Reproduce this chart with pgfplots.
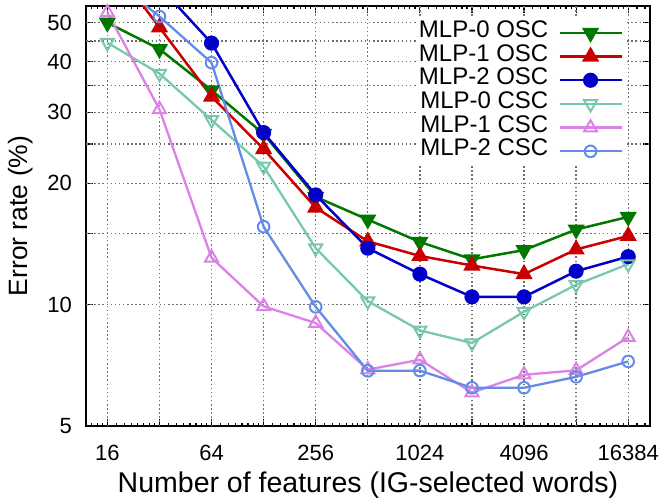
\documentclass[border=0pt]{standalone}
\usepackage{pgfplots}
\pgfplotsset{compat=1.18}
\usepackage{fontspec}
\setmainfont{Liberation Sans}
\definecolor{cg}{RGB}{0,120,0}
\definecolor{cr}{RGB}{200,0,0}
\definecolor{cb}{RGB}{0,0,200}
\definecolor{ct}{RGB}{120,200,170}
\definecolor{cv}{RGB}{220,130,230}
\definecolor{cl}{RGB}{100,140,230}
\definecolor{cgrid}{RGB}{110,110,110}
\tikzset{gridline/.style={draw=cgrid, line width=1.3pt, dash pattern=on 1.5pt off 2.6pt}}
\begin{document}
\begin{tikzpicture}
\path[use as bounding box] (-86pt,-73pt) rectangle (577pt,426pt);
\begin{axis}[
  scale only axis, width=564pt, height=420pt,
  xmode=log, ymode=log,
  xmin=12.04, xmax=21900, ymin=5, ymax=55,
  xtick={16,32,64,128,256,512,1024,2048,4096,8192,16384},
  xticklabels={16,,64,,256,,1024,,4096,,16384},
  minor xtick={13,14,15,18,20,22,24,26,28,30,36,40,44,48,52,56,60,72,80,88,96,104,112,120,144,160,176,192,208,224,240,288,320,352,384,416,448,480,576,640,704,768,832,896,960,1152,1280,1408,1536,1664,1792,1920,2304,2560,2816,3072,3328,3584,3840,4608,5120,5632,6144,6656,7168,7680,9216,10240,11264,12288,13312,14336,15360,18432,20480},
  ytick={5,10,15,20,25,30,35,40,45,50},
  yticklabels={5,10,,20,,30,,40,,50},
  tick align=inside, major tick length=7pt, minor tick length=3.5pt,
  tick style={black, line width=1.2pt},
  axis line style={line width=1.6pt},
  /pgf/number format/assume math mode=true,
  tick label style={font=\fontsize{22}{22}\selectfont},
  xticklabel style={anchor=base, inner sep=0pt, yshift=-34.7pt},
  yticklabel style={anchor=east, inner sep=0pt, xshift=-14pt},
  xlabel={Number of features (IG-selected words)},
  ylabel={Error rate (\%)},
  every axis x label/.style={at={([yshift=-66pt]axis description cs:0.5,0)}, anchor=base, font=\fontsize{28.5}{28.5}\selectfont},
  every axis y label/.style={at={([xshift=-78pt]axis description cs:0,0.5)}, anchor=north, rotate=90, inner sep=0pt, font=\fontsize{26.5}{26.5}\selectfont},
  legend image code/.code={\draw[mark repeat=2,mark phase=2,#1] plot coordinates {(0pt,0pt) (31pt,0pt) (62pt,0pt)};},
  legend plot pos=right,
  legend cell align=right,
  legend style={at={(rel axis cs:1,1)}, anchor=north east, xshift=-24pt, yshift=-11.8pt,
    draw=none, fill=white, inner sep=3pt, column sep=10pt, row sep=0pt,
    font=\fontsize{24}{24}\selectfont,
    nodes={inner sep=0pt, text height=16.5pt, text depth=7.2pt}},
]
\pgfplotsinvokeforeach{16,32,64,128,256,512,1024,2048,4096,8192,16384}{\draw[gridline] (axis cs:#1,5) -- (axis cs:#1,55);}
\pgfplotsinvokeforeach{10,15,20,25,30,35,40,45,50}{\draw[gridline] (axis cs:12.04,#1) -- (axis cs:21900,#1);}
\addplot[cg, line width=2.5pt, mark=triangle*, mark size=7.5pt, mark options={solid, rotate=180}] coordinates {
(16,50) (32,43) (64,34) (128,26.5) (256,18.5) (512,16.25) (1024,14.3) (2048,12.95) (4096,13.65) (8192,15.35) (16384,16.5)};
\addlegendentry{MLP-0 OSC}
\addplot[cr, line width=2.5pt, mark=triangle*, mark size=7.5pt, mark options={solid}] coordinates {
(16,72) (32,48.7) (64,32.8) (128,24.3) (256,17.4) (512,14.35) (1024,13.2) (2048,12.5) (4096,11.9) (8192,13.7) (16384,14.8)};
\addlegendentry{MLP-1 OSC}
\addplot[cb, line width=2.5pt, mark=*, mark size=6.3pt, mark options={solid}] coordinates {
(16,75) (32,61.5) (64,44.5) (128,26.7) (256,18.7) (512,13.8) (1024,11.9) (2048,10.45) (4096,10.45) (8192,12.1) (16384,13.15)};
\addlegendentry{MLP-2 OSC}
\addplot[ct, line width=2.3pt, mark=triangle, mark size=7.5pt, mark options={solid, rotate=180, line width=2pt}] coordinates {
(16,44.6) (32,37.4) (64,28.7) (128,22.0) (256,13.8) (512,10.2) (1024,8.63) (2048,8.03) (4096,9.6) (8192,11.2) (16384,12.6)};
\addlegendentry{MLP-0 CSC}
\addplot[cv, line width=2.3pt, mark=triangle, mark size=7.5pt, mark options={solid, line width=2pt}] coordinates {
(16,53) (32,30.5) (64,13.06) (128,9.9) (256,9.0) (512,6.9) (1024,7.3) (2048,6.05) (4096,6.7) (8192,6.87) (16384,8.3)};
\addlegendentry{MLP-1 CSC}
\addplot[cl, line width=2.3pt, mark=o, mark size=5.8pt, mark options={solid, line width=2pt}] coordinates {
(16,65.6) (32,51.8) (64,39.8) (128,15.6) (256,9.87) (512,6.85) (1024,6.86) (2048,6.22) (4096,6.22) (8192,6.62) (16384,7.23)};
\addlegendentry{MLP-2 CSC}
\end{axis}
\end{tikzpicture}
\end{document}
